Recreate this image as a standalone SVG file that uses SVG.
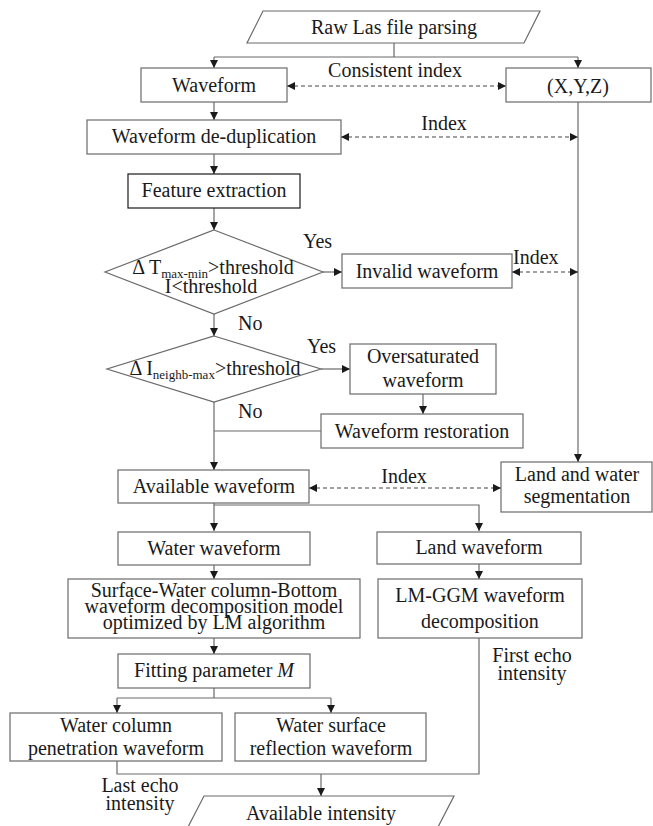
<svg xmlns="http://www.w3.org/2000/svg" width="653" height="826" viewBox="0 0 653 826">
<defs>
<marker id="ah" viewBox="0 0 10 10" refX="10" refY="5" markerWidth="9" markerHeight="8" markerUnits="userSpaceOnUse" orient="auto-start-reverse">
<path d="M0,0 L10,5 L0,10 Z" fill="#1a1a1a"/>
</marker>
<style>
.b{fill:#fff;stroke:#6a6a6a;stroke-width:1.2}
.bk{fill:#fff;stroke:#1a1a1a;stroke-width:1.2}
.t{font-family:"Liberation Serif","Times New Roman",serif;font-size:20px;fill:#1a1a1a;text-anchor:middle}
.l{font-family:"Liberation Serif","Times New Roman",serif;font-size:20px;fill:#1a1a1a}
.s{font-size:13px}
.c{fill:none;stroke:#6a6a6a;stroke-width:1.2}
.a{fill:none;stroke:#6a6a6a;stroke-width:1.2;marker-end:url(#ah)}
.d{fill:none;stroke:#444;stroke-width:1;stroke-dasharray:4,3;marker-start:url(#ah);marker-end:url(#ah)}
</style>
</defs>
<rect width="653" height="826" fill="#fff"/>
<g id="connectors">
<path class="c" d="M394,43 V57 M214,57 H578"/>
<path class="a" d="M214,57 V68"/>
<path class="a" d="M578,57 V68"/>
<path class="a" d="M214,102 V120"/>
<path class="a" d="M214,154 V174"/>
<path class="a" d="M214,208 V230"/>
<path class="a" d="M323,272 H342"/>
<path class="a" d="M214,314 V336"/>
<path class="a" d="M321,369 H350"/>
<path class="a" d="M423,394 V414"/>
<path class="c" d="M321,431 H214"/>
<path class="a" d="M214,402 V470"/>
<path class="a" d="M578,102 V462"/>
<path class="a" d="M214,503 V531"/>
<path class="a" d="M214,505 H479 V531"/>
<path class="a" d="M214,565 V579"/>
<path class="a" d="M479,564 V579"/>
<path class="a" d="M214,638 V654"/>
<path class="c" d="M214,688 V698 M117,698 H331"/>
<path class="a" d="M117,698 V713"/>
<path class="a" d="M331,698 V713"/>
<path class="c" d="M117,761 V774 H479 V638"/>
<path class="a" d="M321,774 V796"/>
<path class="d" d="M287,86 H506"/>
<path class="d" d="M341,137 H578"/>
<path class="d" d="M512,272 H578"/>
<path class="d" d="M309,488 H501"/>
<text class="t" x="395" y="77">Consistent index</text>
<text class="t" x="444" y="130">Index</text>
<text class="l" x="513" y="264">Index</text>
<text class="t" x="404" y="483">Index</text>
<text class="l" x="303" y="248">Yes</text>
<text class="l" x="238" y="330">No</text>
<text class="l" x="307" y="353">Yes</text>
<text class="l" x="238" y="418">No</text>
<text class="t" x="532" y="662">First echo</text>
<text class="t" x="532" y="680">intensity</text>
<text class="t" x="140" y="792">Last echo</text>
<text class="t" x="140" y="810">intensity</text>
</g>
<g id="raw">
<polygon class="b" points="263,11 540,11 524,43 247,43"/>
<text class="t" x="394" y="34">Raw Las file parsing</text>
</g>
<g id="waveform">
<rect class="b" x="141" y="68" width="146" height="34"/>
<text class="t" x="214" y="92">Waveform</text>
</g>
<g id="xyz">
<rect class="b" x="506" y="68" width="145" height="34"/>
<text class="t" x="578" y="93">(X,Y,Z)</text>
</g>
<g id="dedup">
<rect class="b" x="87" y="120" width="254" height="34"/>
<text class="t" x="214" y="143">Waveform de-duplication</text>
</g>
<g id="feature">
<rect class="bk" x="128" y="174" width="172" height="34"/>
<text class="t" x="214" y="197">Feature extraction</text>
</g>
<g id="decision1">
<polygon class="b" points="214,230 323,272 214,314 105,272"/>
<text class="t" x="213" y="274">Δ T<tspan class="s" dy="4">max-min</tspan><tspan dy="-4">&gt;threshold</tspan></text>
<text class="t" x="211" y="293">I&lt;threshold</text>
</g>
<g id="invalid">
<rect class="b" x="342" y="254" width="170" height="34"/>
<text class="t" x="427" y="278">Invalid waveform</text>
</g>
<g id="decision2">
<polygon class="b" points="214,336 321,369 214,402 107,369"/>
<text class="t" x="215" y="375">Δ I<tspan class="s" dy="4">neighb-max</tspan><tspan dy="-4">&gt;threshold</tspan></text>
</g>
<g id="oversaturated">
<rect class="b" x="350" y="344" width="146" height="50"/>
<text class="t" x="423" y="363">Oversaturated</text>
<text class="t" x="423" y="387">waveform</text>
</g>
<g id="restoration">
<rect class="b" x="321" y="414" width="202" height="34"/>
<text class="t" x="422" y="438">Waveform restoration</text>
</g>
<g id="available">
<rect class="b" x="118" y="470" width="191" height="33"/>
<text class="t" x="214" y="493">Available waveform</text>
</g>
<g id="landwater">
<rect class="b" x="501" y="462" width="151" height="50"/>
<text class="t" x="577" y="481">Land and water</text>
<text class="t" x="577" y="503">segmentation</text>
</g>
<g id="water">
<rect class="b" x="118" y="532" width="192" height="33"/>
<text class="t" x="214" y="555">Water waveform</text>
</g>
<g id="land">
<rect class="b" x="377" y="532" width="204" height="32"/>
<text class="t" x="479" y="554">Land waveform</text>
</g>
<g id="swb">
<rect class="b" x="68" y="579" width="292" height="59"/>
<text class="t" x="214" y="597">Surface-Water column-Bottom</text>
<text class="t" x="214" y="613">waveform decomposition model</text>
<text class="t" x="214" y="629">optimized by LM algorithm</text>
</g>
<g id="lmggm">
<rect class="b" x="378" y="579" width="204" height="59"/>
<text class="t" x="480" y="602">LM-GGM waveform</text>
<text class="t" x="480" y="628">decomposition</text>
</g>
<g id="fitting">
<rect class="b" x="118" y="654" width="192" height="34"/>
<text class="t" x="214" y="677">Fitting parameter <tspan font-style="italic">M</tspan></text>
</g>
<g id="column">
<rect class="b" x="10" y="713" width="212" height="48"/>
<text class="t" x="116" y="732">Water column</text>
<text class="t" x="116" y="755">penetration waveform</text>
</g>
<g id="surface">
<rect class="b" x="235" y="713" width="191" height="48"/>
<text class="t" x="331" y="732">Water surface</text>
<text class="t" x="331" y="755">reflection waveform</text>
</g>
<g id="intensity">
<polygon class="b" points="204,796 454,796 438,827 188,827"/>
<text class="t" x="321" y="820">Available intensity</text>
</g>
</svg>
